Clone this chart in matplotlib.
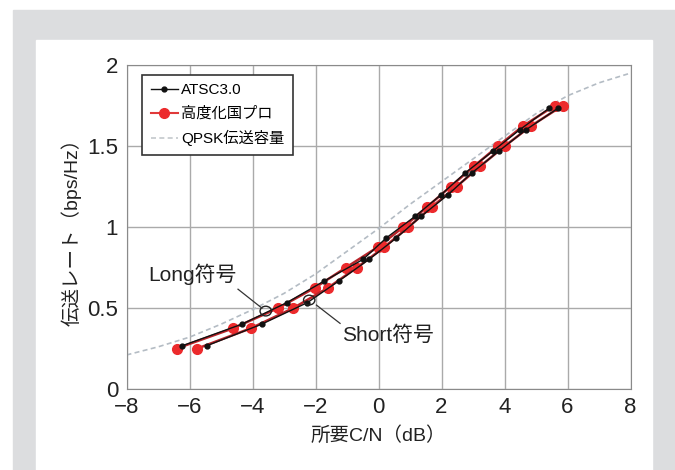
"""伝送レート vs 所要C/N — ATSC3.0 と 高度化国プロ (Long/Short符号)."""
import matplotlib
matplotlib.use("Agg")
import matplotlib.pyplot as plt
from matplotlib.patches import Rectangle, Ellipse

plt.rcParams["font.family"] = ["Liberation Sans", "Noto Sans CJK JP", "DejaVu Sans"]

# ATSC3.0 (符号化率 2/15 ... 13/15, QPSK)
atsc_rate = [0.267, 0.400, 0.533, 0.667, 0.800, 0.933, 1.067, 1.200, 1.333, 1.467, 1.600, 1.733]
atsc_long_cn = [-6.23, -4.34, -2.91, -1.72, -0.49, 0.25, 1.17, 1.99, 2.75, 3.62, 4.48, 5.42]
atsc_short_cn = [-5.45, -3.71, -2.26, -1.26, -0.30, 0.57, 1.36, 2.21, 2.96, 3.81, 4.68, 5.70]

# 高度化国プロ
kdk_rate = [0.250, 0.375, 0.500, 0.625, 0.750, 0.875, 1.000, 1.125, 1.250, 1.375, 1.500, 1.625, 1.750]
kdk_long_cn = [-6.41, -4.61, -3.18, -2.02, -1.03, -0.03, 0.79, 1.55, 2.29, 3.03, 3.80, 4.60, 5.60]
kdk_short_cn = [-5.75, -4.05, -2.70, -1.60, -0.68, 0.18, 0.95, 1.70, 2.48, 3.23, 4.01, 4.85, 5.85]

# QPSK伝送容量
cap_cn = [-8, -7, -6, -5, -4, -3, -2, -1, 0, 1, 2, 3, 4, 5, 6, 7, 8]
cap_rate = [0.21, 0.26, 0.32, 0.40, 0.49, 0.59, 0.71, 0.85, 0.99, 1.14, 1.28, 1.42, 1.56, 1.70, 1.81, 1.89, 1.95]

fig = plt.figure(figsize=(6.75, 4.7), dpi=100)
fig.patches.append(Rectangle((13 / 675, 0), 662 / 675, 460 / 470, transform=fig.transFigure,
                             color="#dcdddf", zorder=-10))
fig.patches.append(Rectangle((36 / 675, 0), 616 / 675, 430 / 470, transform=fig.transFigure,
                             color="white", zorder=-9))

ax = fig.add_axes([126.5 / 675, 1 - 389 / 470, 504 / 675, 324 / 470])
ax.set_xlim(-8, 8)
ax.set_ylim(0, 2)
ax.set_xticks(range(-8, 9, 2))
ax.set_xticklabels(["−8", "−6", "−4", "−2", "0", "2", "4", "6", "8"])
ax.set_yticks([0, 0.5, 1, 1.5, 2])
ax.set_yticklabels(["0", "0.5", "1", "1.5", "2"])
ax.tick_params(length=0, labelsize=16, colors="#222222", pad=6)
ax.grid(color="#aaaaaa", lw=1)
for s in ax.spines.values():
    s.set_color("#8a8a8a")
ax.set_axisbelow(True)

ax.plot(cap_cn, cap_rate, ls=(0, (3, 2)), color="#b4bcc4", lw=1.2, zorder=2)

red_line = "#b8242a"
red_mk = "#ec2a2c"
ax.plot(kdk_long_cn, kdk_rate, color=red_line, lw=1.8, marker="o", ms=7,
        mfc=red_mk, mec=red_mk, zorder=3)
ax.plot(kdk_short_cn, kdk_rate, color=red_line, lw=1.8, marker="o", ms=7,
        mfc=red_mk, mec=red_mk, zorder=3)
ax.plot(atsc_long_cn, atsc_rate, color="#111111", lw=1.0, marker="o", ms=3.5,
        mfc="#111111", mec="#111111", zorder=4)
ax.plot(atsc_short_cn, atsc_rate, color="#111111", lw=1.0, marker="o", ms=3.5,
        mfc="#111111", mec="#111111", zorder=4)

# 凡例用ハンドル
h1, = ax.plot([], [], color="#111111", lw=1.0, marker="o", ms=3.5)
h2, = ax.plot([], [], color="#e03a3a", lw=1.5, marker="o", ms=7, mfc=red_mk, mec=red_mk)
h3, = ax.plot([], [], ls=(0, (3, 2)), color="#c4c8cc", lw=1.2)
leg = ax.legend([h1, h2, h3], ["ATSC3.0", "高度化国プロ", "QPSK伝送容量"],
                loc="upper left", bbox_to_anchor=(0.031, 0.969), borderaxespad=0,
                fontsize=11, fancybox=False, framealpha=1, edgecolor="#333333",
                handlelength=1.8, handletextpad=0.2, borderpad=0.55, labelspacing=0.6)
leg.get_frame().set_linewidth(1.2)

# 注記
ax.add_patch(Ellipse((-3.58, 0.481), 0.36, 0.06, fill=False, ec="#222222", lw=1, zorder=5))
ax.add_patch(Ellipse((-2.20, 0.549), 0.36, 0.06, fill=False, ec="#222222", lw=1, zorder=5))
ax.plot([-4.46, -3.70], [0.616, 0.499], color="#333333", lw=0.9, zorder=5)
ax.plot([-1.97, -1.22], [0.518, 0.405], color="#333333", lw=0.9, zorder=5)
ax.text(-7.32, 0.71, "Long符号", fontsize=15, va="center", ha="left", color="#222222")
ax.text(-1.16, 0.333, "Short符号", fontsize=15, va="center", ha="left", color="#222222")

ax.set_xlabel("所要C/N（dB）", fontsize=14, color="#222222", labelpad=6)
ax.set_ylabel("伝送レート（bps/Hz）", fontsize=14, color="#222222", labelpad=4)

fig.savefig("out.png", dpi=100)
print("out.png")
